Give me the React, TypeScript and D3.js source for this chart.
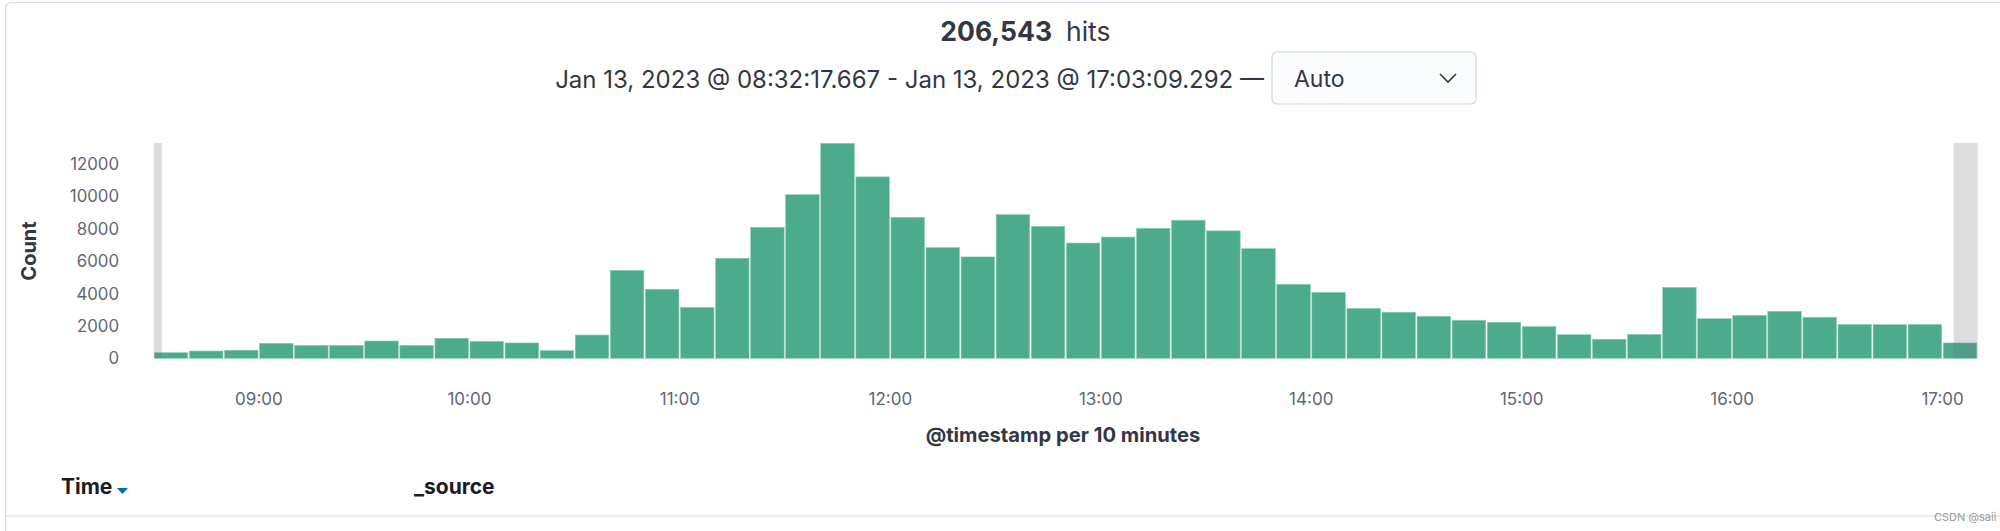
import React from "react";
import * as d3 from "d3";

// ---- data ----
const bucketStarts: string[] = [
  "08:30", "08:40", "08:50", "09:00", "09:10", "09:20", "09:30", "09:40", "09:50",
  "10:00", "10:10", "10:20", "10:30", "10:40", "10:50",
  "11:00", "11:10", "11:20", "11:30", "11:40", "11:50",
  "12:00", "12:10", "12:20", "12:30", "12:40", "12:50",
  "13:00", "13:10", "13:20", "13:30", "13:40", "13:50",
  "14:00", "14:10", "14:20", "14:30", "14:40", "14:50",
  "15:00", "15:10", "15:20", "15:30", "15:40", "15:50",
  "16:00", "16:10", "16:20", "16:30", "16:40", "16:50",
  "17:00",
];
const counts: number[] = [
  350, 450, 500, 930, 800, 800, 1070, 800, 1240,
  1050, 950, 480, 1440, 5440, 4270,
  3150, 6190, 8100, 10120, 13300, 11220,
  8720, 6850, 6270, 8890, 8160, 7130,
  7500, 8040, 8540, 7880, 6780, 4580,
  4080, 3090, 2850, 2600, 2350, 2230,
  1960, 1460, 1180, 1480, 4390, 2450,
  2660, 2910, 2540, 2100, 2080, 2100,
  950,
];
const yTicks: number[] = [0, 2000, 4000, 6000, 8000, 10000, 12000];
const xTickLabels: string[] = ["09:00", "10:00", "11:00", "12:00", "13:00", "14:00", "15:00", "16:00", "17:00"];
const domainStart = "08:30:00.000";
const domainEnd = "17:10:00.000";
const queryStart = "08:32:17.667";
const queryEnd = "17:03:09.292";
const hitsTotal = "206,543";
const rangeLabel = "Jan 13, 2023 @ 08:32:17.667 - Jan 13, 2023 @ 17:03:09.292 —";

const parseT = (s: string) => {
  const [h, m, rest] = s.split(":");
  const sec = rest ? parseFloat(rest) : 0;
  return new Date(2023, 0, 13, +h, +m, Math.floor(sec), Math.round((sec % 1) * 1000));
};

const FONT = "Inter, 'Noto Sans', sans-serif";

export default function App() {
  const x = d3.scaleTime().domain([parseT(domainStart), parseT(domainEnd)]).range([153.7, 1977.7]);
  const y = d3.scaleLinear().domain([0, 13315]).range([358.3, 143]);
  const plotTop = y(13315);
  const base = y(0);

  const bars = bucketStarts.map((s, i) => {
    const t0 = parseT(s);
    const t1 = d3.timeMinute.offset(t0, 10);
    const x0 = x(t0) + 0.6;
    const x1 = x(t1) - 0.9;
    return { x: x0, w: x1 - x0, y: y(counts[i]), h: base - y(counts[i]) };
  });

  const qs = x(parseT(queryStart));
  const qe = x(parseT(queryEnd));

  return (
    <svg
      width={2000}
      height={531}
      style={{ position: "absolute", left: 0, top: 0, background: "#fff" }}
      fontFamily={FONT}
    >
      {/* panel border */}
      <path d="M5.5 531 V 8.5 A 6 6 0 0 1 11.5 2.5 H 2000" fill="none" stroke="#d3dae6" strokeWidth={1.2} />

      {/* header */}
      <text x={1052} y={41} textAnchor="end" fontSize={26.5} fontWeight={700} fill="#343741">{hitsTotal}</text>
      <text x={1066} y={41} textAnchor="start" fontSize={26.5} fill="#343741">hits</text>
      <text x={1264} y={87.5} textAnchor="end" fontSize={24} fill="#343741">{rangeLabel}</text>
      <rect x={1272} y={52} width={204} height={52} rx={5} fill="#fbfcfd" stroke="#cdd6e6" strokeWidth={1.2} />
      <text x={1294} y={86.5} fontSize={23} fill="#343741">Auto</text>
      <polyline points="1440,74 1448,82 1456,74" fill="none" stroke="#343741" strokeWidth={1.6} />

      {/* bars */}
      {bars.map((b, i) => (
        <rect key={i} x={b.x} y={b.y} width={b.w} height={b.h} fill="#4CAA8D" stroke="#8cd0b8" strokeWidth={0.6} />
      ))}

      {/* out-of-range overlays */}
      <rect x={x(parseT(domainStart))} y={plotTop} width={qs - x(parseT(domainStart))} height={base - plotTop} fill="#69707d" opacity={0.24} />
      <rect x={qe} y={plotTop} width={x(parseT(domainEnd)) - qe} height={base - plotTop} fill="#69707d" opacity={0.24} />

      {/* y axis */}
      {yTicks.map((t) => (
        <text key={t} x={119} y={y(t)} dy="0.35em" textAnchor="end" fontSize={16.8} fill="#5f6672">{t}</text>
      ))}
      <text transform={`translate(36, 251) rotate(-90)`} textAnchor="middle" fontSize={20} fontWeight={700} fill="#343741">Count</text>

      {/* x axis */}
      {xTickLabels.map((l) => (
        <text key={l} x={x(parseT(l))} y={405} textAnchor="middle" fontSize={17} fill="#5f6672">{l}</text>
      ))}
      <text x={1063} y={442} textAnchor="middle" fontSize={20.2} fontWeight={700} fill="#343741">@timestamp per 10 minutes</text>

      {/* table header */}
      <text x={61} y={494} fontSize={21} fontWeight={700} fill="#1a1c21">Time</text>
      <polygon points="117,488 128,488 122.5,494" fill="#006bb4" />
      <text x={414} y={494} fontSize={21} fontWeight={700} fill="#1a1c21">_source</text>
      <line x1={5.5} x2={2000} y1={516} y2={516} stroke="#d3dae6" strokeWidth={1.2} />
      <text x={1934} y={521} fontSize={11} fill="#9a9a9a">CSDN @saii</text>
    </svg>
  );
}
